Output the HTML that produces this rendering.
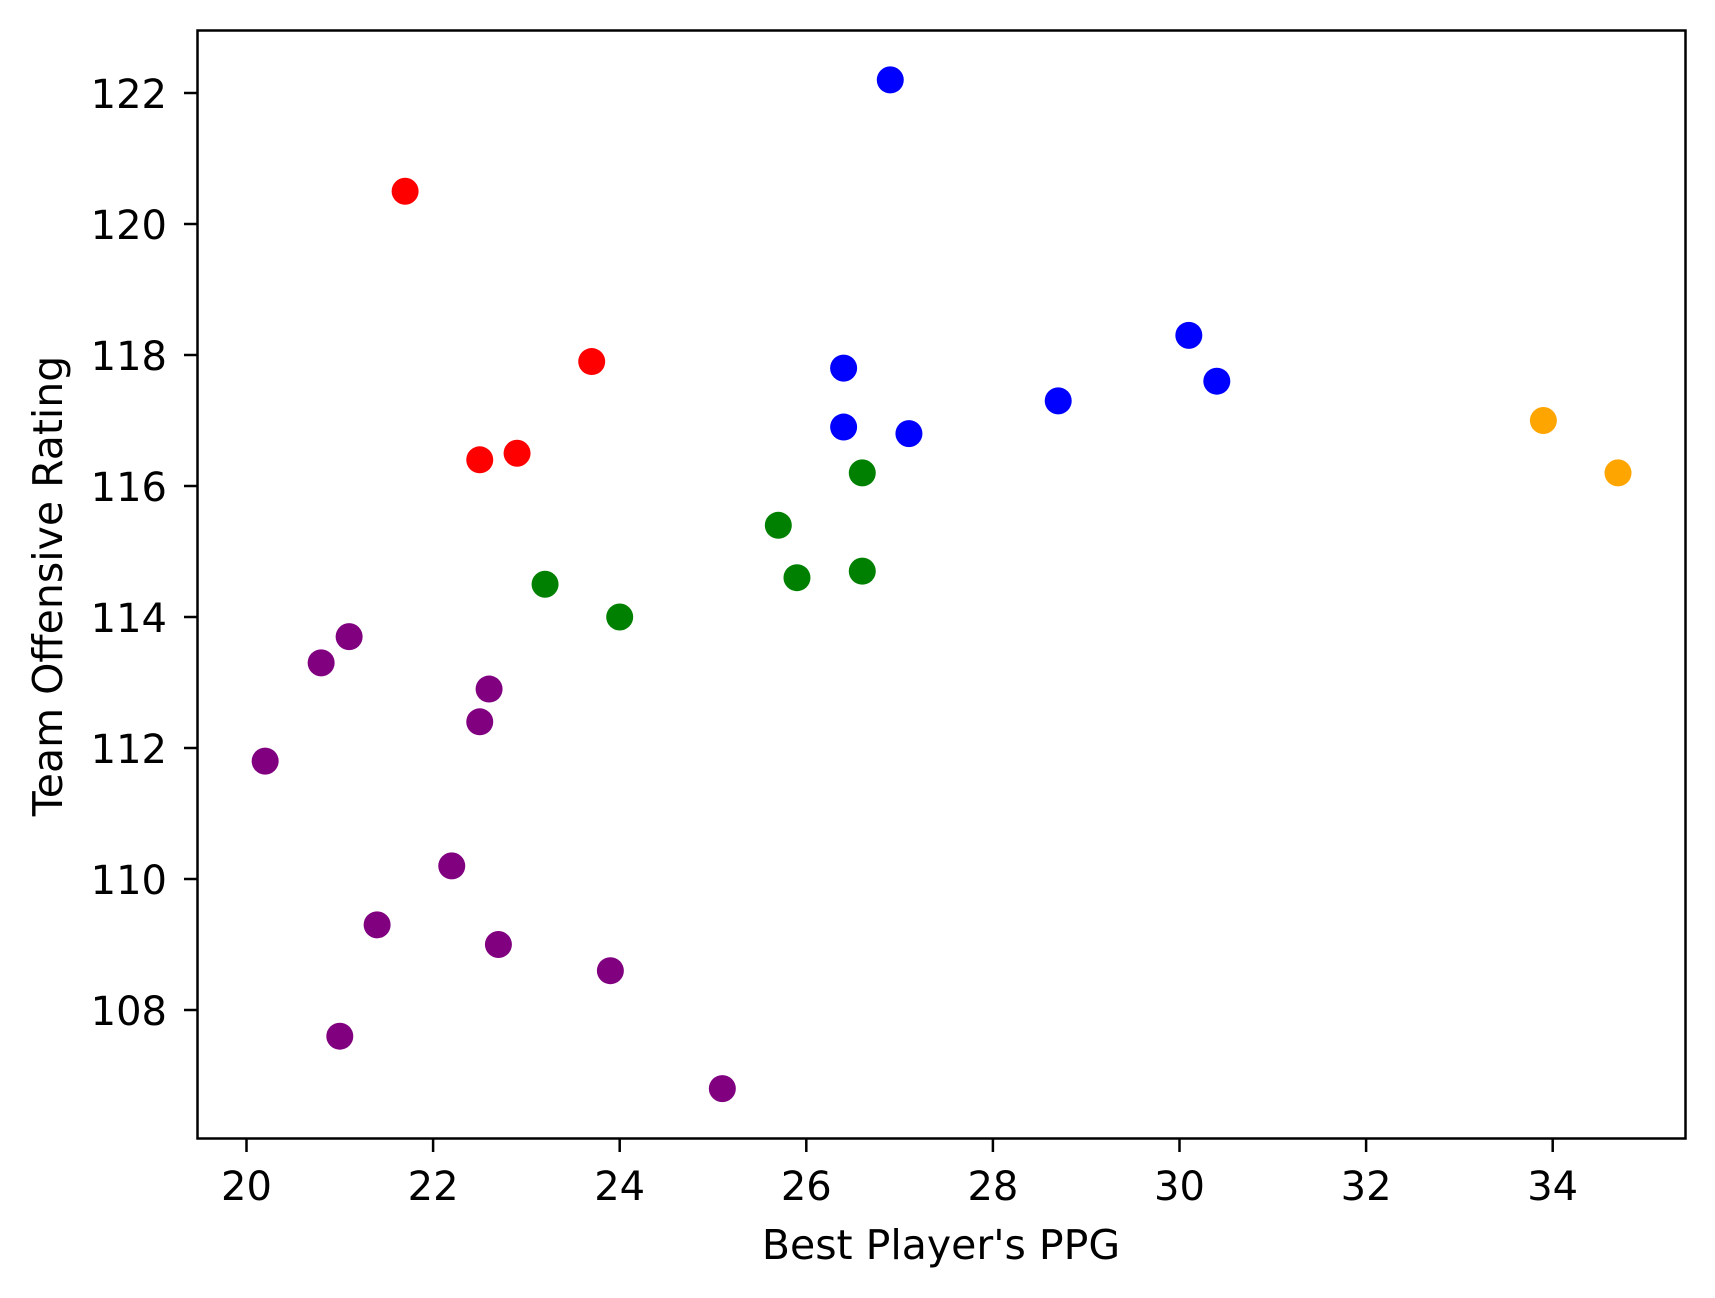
<!DOCTYPE html>
<html><head><meta charset="utf-8"><style>
html,body{margin:0;padding:0;background:#fff;}
svg{display:block;}
text{font-family:"DejaVu Sans","Liberation Sans",sans-serif;fill:#000;}
</style></head><body>
<svg id="chart" width="1715" height="1298" viewBox="0 0 1715 1298" xmlns="http://www.w3.org/2000/svg">
<rect x="197.5" y="30.5" width="1488" height="1108" fill="#fff" stroke="#000" stroke-width="2.5"/>
<g id="xt"></g>
<g id="yt"></g>
<g id="pts"></g>
<text x="941" y="1259" font-size="41" text-anchor="middle">Best Player's PPG</text>
<text transform="translate(62,586) rotate(-90)" font-size="41" text-anchor="middle">Team Offensive Rating</text>
</svg>
<script>
const xTicks=[20,22,24,26,28,30,32,34];
const yTicks=[108,110,112,114,116,118,120,122];
const ppg=[21.7,23.7,22.5,22.9, 26.9,30.1,30.4,26.4,28.7,26.4,27.1, 33.9,34.7, 26.6,25.7,25.9,26.6,23.2,24.0, 21.1,20.8,22.6,22.5,20.2,22.2,21.4,22.7,23.9,21.0,25.1];
const ortg=[120.5,117.9,116.4,116.5, 122.2,118.3,117.6,117.8,117.3,116.9,116.8, 117.0,116.2, 116.2,115.4,114.6,114.7,114.5,114.0, 113.7,113.3,112.9,112.4,111.8,110.2,109.3,109.0,108.6,107.6,106.8];
const groups=['red','red','red','red','blue','blue','blue','blue','blue','blue','blue','orange','orange','green','green','green','green','green','green','purple','purple','purple','purple','purple','purple','purple','purple','purple','purple','purple'];
const NS='http://www.w3.org/2000/svg';
const X=v=>246.5+(v-20)*93.3;
const Y=v=>93+(122-v)*65.5;
function mk(t,a){const e=document.createElementNS(NS,t);for(const k in a)e.setAttribute(k,a[k]);return e;}
const xt=document.getElementById('xt'),yt=document.getElementById('yt'),pts=document.getElementById('pts');
xTicks.forEach(v=>{
  const l=mk('line',{x1:X(v),x2:X(v),y1:1139,y2:1152,stroke:'#000','stroke-width':2.5});
  
  
  xt.appendChild(l);
  const t=mk('text',{x:X(v),y:1200,'font-size':40,'text-anchor':'middle'});
  
  
  t.textContent=v;xt.appendChild(t);
});
yTicks.forEach(v=>{
  const l=mk('line',{x1:184,x2:197,y1:Y(v),y2:Y(v),stroke:'#000','stroke-width':2.5});
  
  
  yt.appendChild(l);
  const t=mk('text',{x:167,y:Y(v)+15,'font-size':40,'text-anchor':'end'});
  
  
  t.textContent=v;yt.appendChild(t);
});
ppg.forEach((v,i)=>{
  const c=mk('circle',{cx:X(v),cy:Y(ortg[i]),r:13.5,fill:groups[i]});
  
  
  pts.appendChild(c);
});
</script>
</body></html>
